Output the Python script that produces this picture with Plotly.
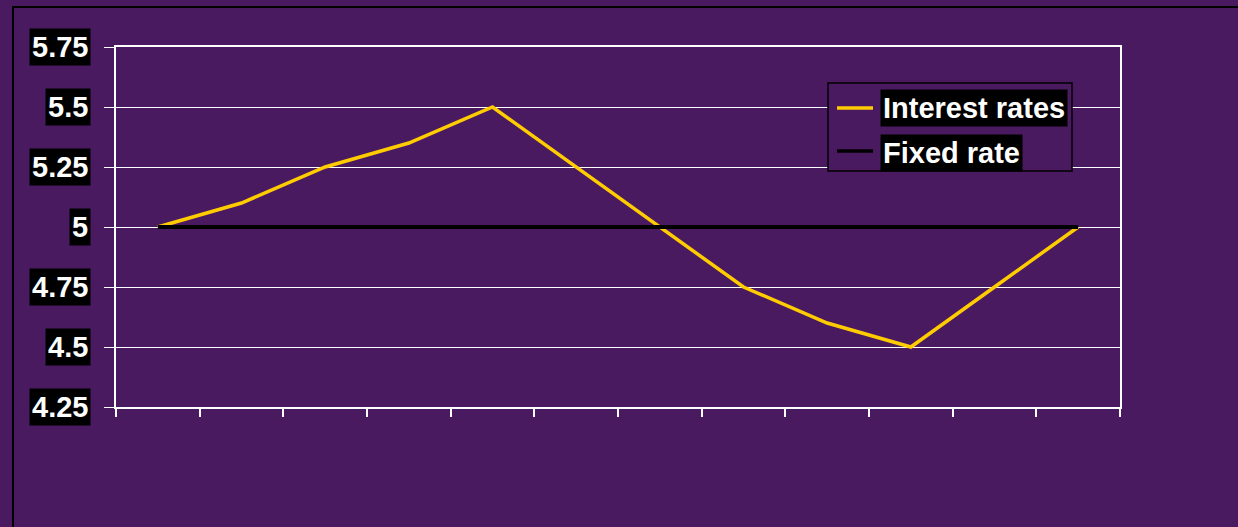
import plotly.graph_objects as go

categories = [str(i) for i in range(1, 13)]
interest_rates = [5.0, 5.1, 5.25, 5.35, 5.5, 5.25, 5.0, 4.75, 4.6, 4.5, 4.75, 5.0]
fixed_rate = [5.0] * 12
y_ticks = [4.25, 4.5, 4.75, 5.0, 5.25, 5.5, 5.75]
y_tick_labels = ["4.25", "4.5", "4.75", "5", "5.25", "5.5", "5.75"]
series_names = ["Interest rates", "Fixed rate"]

BG = "#4a1a61"
YELLOW = "#ffcc00"
FONT = "Liberation Sans, Arial, sans-serif"

W, H = 1238, 527
L, R, T, B = 116, 118, 47, 120
pw, ph = W - L - R, H - T - B

def px(x):
    return (x - L) / pw

def py(y):
    return (H - B - y) / ph

fig = go.Figure()
fig.add_trace(go.Scatter(x=categories, y=interest_rates, mode="lines",
                         line=dict(color=YELLOW, width=3.5), name=series_names[0]))
fig.add_trace(go.Scatter(x=categories, y=fixed_rate, mode="lines",
                         line=dict(color="black", width=4), name=series_names[1]))

annotations = []
for v, t in zip(y_ticks, y_tick_labels):
    annotations.append(dict(x=0, xref="paper", y=v, yref="y", text="<b>%s</b>" % t,
                            showarrow=False, xanchor="right", yanchor="middle",
                            xshift=-25, bgcolor="black", borderpad=2,
                            font=dict(family=FONT, size=29, color="white")))

shapes = [
    # outer chart border
    dict(type="rect", xref="paper", yref="paper", x0=px(13), x1=px(1260), y0=py(545), y1=py(7),
         line=dict(color="black", width=2), layer="below"),
    # legend box
    dict(type="rect", xref="paper", yref="paper", x0=px(828), x1=px(1072), y0=py(171), y1=py(83),
         line=dict(color="black", width=1.5), fillcolor=BG, layer="above"),
    dict(type="line", xref="paper", yref="paper", x0=px(837), x1=px(873), y0=py(108), y1=py(108),
         line=dict(color=YELLOW, width=3.5), layer="above"),
    dict(type="line", xref="paper", yref="paper", x0=px(837), x1=px(873), y0=py(151), y1=py(151),
         line=dict(color="black", width=3.5), layer="above"),
]
for name, yc in zip(series_names, [108.5, 153]):
    annotations.append(dict(x=px(880), xref="paper", y=py(yc), yref="paper", text="<b>%s</b>" % name,
                            showarrow=False, xanchor="left", yanchor="middle",
                            bgcolor="black", borderpad=2,
                            font=dict(family=FONT, size=29, color="white")))

fig.update_layout(
    width=W, height=H,
    margin=dict(l=L, r=R, t=T, b=B),
    paper_bgcolor=BG, plot_bgcolor=BG,
    showlegend=False,
    shapes=shapes, annotations=annotations,
    xaxis=dict(type="category", showgrid=False, showticklabels=False,
               ticks="outside", tickson="boundaries", ticklen=8, tickcolor="white", tickwidth=2,
               showline=True, linecolor="white", linewidth=2, mirror=True, zeroline=False,
               range=[-0.5, 11.5]),
    yaxis=dict(range=[4.25, 5.75], tickvals=y_ticks, showticklabels=False,
               showgrid=True, gridcolor="white", gridwidth=1,
               ticks="outside", ticklen=10, tickcolor="white", tickwidth=1,
               showline=True, linecolor="white", linewidth=2, mirror=True, zeroline=False),
)

fig.write_html("out.html")
